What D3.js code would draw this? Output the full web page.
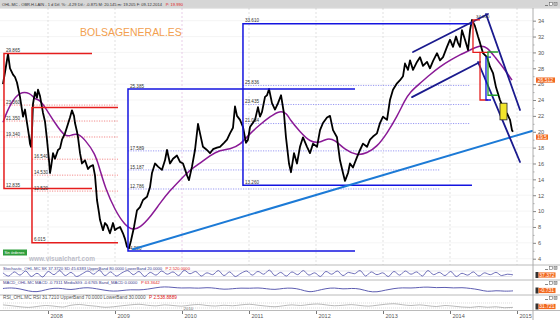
<!DOCTYPE html>
<html><head><meta charset="utf-8">
<script src="https://cdn.jsdelivr.net/npm/d3@7"></script>
<style>body{margin:0;background:#fff}svg{display:block;font-family:"Liberation Sans",Arial,sans-serif}</style>
</head><body><svg id="c" width="560" height="320"></svg>
<script>
// ---------- DATA ----------
const priceYears = [
2007.328,2007.358,2007.403,2007.433,2007.478,2007.507,2007.537,2007.582,2007.627,2007.657,
2007.687,2007.716,2007.731,2007.746,2007.761,2007.776,2007.806,2007.836,2007.851,2007.881,
2007.925,2007.955,2007.985,2008.000,2008.015,2008.030,2008.045,2008.075,2008.104,2008.149,
2008.179,2008.209,2008.254,2008.284,2008.328,2008.358,2008.388,2008.403,2008.433,2008.448,
2008.478,2008.507,2008.552,2008.597,2008.627,2008.672,2008.701,2008.716,2008.731,2008.761,
2008.776,2008.821,2008.851,2008.881,2008.925,2008.970,2009.000,2009.030,2009.075,2009.119,
2009.149,2009.179,2009.209,2009.239,2009.284,2009.328,2009.373,2009.418,2009.478,2009.522,
2009.552,2009.597,2009.642,2009.701,2009.746,2009.776,2009.821,2009.866,2009.925,2009.970,
2010.015,2010.075,2010.104,2010.149,2010.194,2010.239,2010.269,2010.313,2010.373,2010.418,
2010.463,2010.522,2010.567,2010.627,2010.672,2010.716,2010.761,2010.791,2010.821,2010.866,
2010.910,2010.955,2010.985,2011.015,2011.090,2011.134,2011.164,2011.194,2011.239,2011.269,
2011.299,2011.343,2011.388,2011.433,2011.478,2011.522,2011.552,2011.597,2011.627,2011.672,
2011.716,2011.761,2011.806,2011.866,2011.910,2011.955,2012.015,2012.060,2012.104,2012.164,
2012.209,2012.254,2012.313,2012.358,2012.403,2012.433,2012.478,2012.507,2012.552,2012.612,
2012.657,2012.701,2012.761,2012.806,2012.851,2012.910,2012.955,2013.000,2013.060,2013.104,
2013.149,2013.209,2013.254,2013.299,2013.328,2013.373,2013.403,2013.448,2013.507,2013.552,
2013.597,2013.657,2013.701,2013.746,2013.806,2013.851,2013.896,2013.955,2014.000,2014.045,
2014.090,2014.119,2014.149,2014.179,2014.224,2014.269,2014.299,2014.328,2014.373,2014.418,
2014.448,2014.493,2014.552,2014.597,2014.642,2014.687,2014.746,2014.791,2014.821,2014.851,
2014.896,2014.925,2014.940];
const priceValues = [
26.0,27.5,29.8,28.0,27.2,26.9,26.2,24.4,21.9,22.8,
21.1,19.5,18.5,18.1,20.0,23.5,25.0,24.3,25.3,24.5,
22.4,21.3,19.0,17.7,16.4,14.8,15.5,17.3,16.6,17.7,
17.9,19.0,19.8,20.6,21.8,22.7,22.0,21.1,20.0,19.3,
17.3,16.0,16.4,15.3,15.6,15.8,14.5,13.0,11.4,9.8,
8.9,7.6,8.5,8.2,7.2,8.5,7.6,7.8,8.0,7.2,
6.5,5.5,5.3,6.3,8.0,10.1,10.5,11.4,11.8,13.0,
14.8,16.0,15.6,15.2,16.4,17.7,16.0,16.6,17.0,16.2,
16.0,14.5,13.9,15.6,17.7,21.0,19.8,18.1,17.7,17.3,
17.8,18.0,18.1,18.6,19.0,19.8,20.5,23.2,22.0,21.5,
20.6,18.6,19.0,20.6,21.5,23.1,21.9,22.5,24.4,24.6,
25.4,23.6,22.8,23.6,24.6,22.3,19.3,16.0,14.9,17.3,
16.0,18.1,19.3,18.1,17.3,18.5,18.1,20.2,21.1,21.8,
22.0,20.2,19.3,16.4,14.8,13.8,14.8,16.0,15.5,16.8,
17.7,18.5,18.1,19.0,19.4,19.8,21.1,21.9,21.5,24.0,
25.3,26.1,26.5,27.0,28.6,27.8,29.0,27.8,28.8,29.4,
28.3,28.8,28.0,28.9,29.9,29.0,29.4,30.7,31.6,30.7,
32.0,31.2,30.7,32.8,31.6,30.3,32.8,34.1,33.3,32.0,
31.2,29.9,29.4,28.2,27.4,25.6,24.0,23.1,21.9,22.3,
21.5,20.2,19.99];
const maYears = [
2007.328,2007.433,2007.582,2007.731,2007.806,2007.881,2007.955,2008.104,2008.254,2008.358,
2008.448,2008.552,2008.701,2008.776,2008.851,2009.000,2009.149,2009.269,2009.373,2009.522,
2009.672,2009.821,2009.970,2010.119,2010.269,2010.418,2010.567,2010.716,2010.866,2011.015,
2011.164,2011.313,2011.463,2011.567,2011.612,2011.761,2011.910,2012.060,2012.164,2012.284,
2012.433,2012.612,2012.761,2012.910,2013.060,2013.209,2013.328,2013.403,2013.552,2013.701,
2013.851,2014.000,2014.149,2014.299,2014.448,2014.552,2014.672,2014.821,2014.925];
const maValues = [
21.2,23.5,25.1,24.9,24.1,24.0,23.1,21.1,19.3,19.6,
19.8,19.0,17.3,15.2,13.0,10.1,8.2,7.6,7.9,9.2,
11.0,12.6,13.9,15.2,16.0,17.0,17.7,17.8,18.3,19.8,
20.9,21.9,22.7,22.3,21.5,20.0,18.7,18.6,19.2,19.0,
17.7,17.0,17.3,18.1,19.8,21.9,24.0,25.0,26.1,27.2,
28.2,29.0,29.7,30.3,30.9,30.7,29.4,27.8,26.5];

const yearTicks = [2008,2009,2010,2011,2012,2013,2014,2015];
const yearLabels = ["2008","2009","2010","2011","2012","2013","2014","2015"];
const priceTicks = [4,6,8,10,12,14,16,18,20,22,24,26,28,30,32,34,36];

// Fibonacci boxes: [fromYear, toYear, top, bottom]
const redBox1 = [2007.343, 2008.657, 29.865, 12.835];
const redBox1Levels = [23.360, 21.350, 19.340];
const redBox2 = [2007.761, 2009.045, 23.045, 6.015];
const redBox2Levels = [16.540, 14.530, 12.520];
const blueBoxA = [2009.194, 2012.582, 25.385, 4.980];
const blueBoxALevels = [17.589, 15.187, 12.786];
const blueBoxB = [2010.910, 2014.328, 33.610, 13.260];
const blueBoxBLevels = [25.836, 23.435, 21.034];

// trend lines [[year, price],[year, price]]
const supportLine = [[2009.269, 5.2], [2015.224, 20.1]];
const channelUpper = [[2013.448, 30.05], [2014.567, 34.84]];
const channelLower = [[2013.433, 24.37], [2014.448, 28.79]];
const downOuter = [[2014.537, 34.84], [2015.045, 22.74]];
const downInner = [[2014.418, 28.79], [2015.045, 16.19]];

// small brackets near the 2014 top: [fromYear, toYear, top, bottom]
const peakRed1 = [2014.343, 2014.448, 34.1, 30.0];
const peakRed2 = [2014.448, 2014.567, 30.0, 24.0];
const peakBlue = [2014.537, 2014.612, 29.4, 24.0];
const peakGreen = [2014.567, 2014.716, 30.05, 24.6];
const peakYellow = [2014.746, 2014.851, 23.6, 21.5];

// indicators (read approximately)
const stochValues = [60,25,70,35,80,20,55,15,75,40,85,30,65,20,50,80,45,90,30,70,25,60,85,40,75,20,65,35,80,45,70,30,88,50,75,25,60,40,85,30,70,20,55,80,35,75,45,90,30,65,25,70,40,85,35,60,20,75,45,80,30,65,50,85,25,70,40,60,20,75,35,80,45,70,25,85,40,65,30,75,20,55,35,70,25,60,40,65,30,45,38];
const macdValues = [0.2,0.5,0.1,-0.8,-1.2,-0.3,0.4,0.2,-0.4,0.3,0.6,0.1,-0.5,-0.9,-0.6,-0.2,-0.4,-0.1,0.5,0.9,0.6,0.3,0.5,0.2,0.6,0.3,-0.2,0.1,0.4,0.2,0.5,0.1,-0.3,0.3,0.4,-0.1,-1.3,-0.6,0.2,0.5,-0.1,0.3,0.1,-1.0,-1.2,-0.4,0.2,0.5,0.3,0.6,0.8,0.4,0.7,0.3,0.6,0.2,-0.2,-1.1,-0.5,-0.9,-0.7];
const rsiValues = [55,48,40,35,42,50,45,38,52,58,50,44,36,40,48,55,60,52,47,55,50,45,53,58,50,46,52,48,55,60,52,45,40,48,55,50,58,62,55,48,52,57,50,45,52,60,64,56,50,55,48,42,50,45,38,35,42,36,40,32,35];
const indicatorSpan = [2007.328, 2014.940];

// ---------- DRAW ----------
const svg = d3.select("#c");
const W = 560, AX = 533, mainTop = 8, mainBottom = 265;
const x = d3.scaleLinear().domain([2008, 2015]).range([48, 517]);
const y = d3.scaleLinear().domain([4, 36]).range([258.7, 4.8]);

// text sized so its natural width equals the target width
function fitText(parent, tx, ty, str, width, color, extra) {
  const t = parent.append("text").attr("x",tx).attr("y",ty).attr("fill",color).attr("font-size",10).text(str);
  if (extra) extra(t);
  const L = t.node().getComputedTextLength();
  t.attr("font-size", (10 * width / L).toFixed(3));
  return t;
}
// two texts (normal + red) sharing one font size, fitted to a total width
function pairText(tx, ty, s1, c1, s2, c2, total, gap) {
  const a = svg.append("text").attr("x",tx).attr("y",ty).attr("fill",c1).attr("font-size",10).text(s1);
  const b = svg.append("text").attr("y",ty).attr("fill",c2).attr("font-size",10).text(s2);
  const L1 = a.node().getComputedTextLength(), L2 = b.node().getComputedTextLength();
  const f = 10 * (total - gap) / (L1 + L2);
  a.attr("font-size", f.toFixed(3));
  b.attr("font-size", f.toFixed(3)).attr("x", tx + L1 * f / 10 + gap);
}

// header
svg.append("rect").attr("x",0).attr("y",0).attr("width",W).attr("height",7.5).attr("fill","#d6d6d6");
pairText(2, 5.6, "OHL.MC - OBR.H.LAIN - 1 d  Dif. %: -4.29  Dif.: -0.875  M: 20.145  m: 19.205  F: 09-12-2014", "#333",
  "P: 19.990", "#e02020", 181, 3);

function winIcons(x0, y0) {
  const gi = svg.append("g");
  gi.append("line").attr("x1",x0).attr("x2",x0+3).attr("y1",y0+3).attr("y2",y0+3).attr("stroke","#555").attr("stroke-width",0.7);
  gi.append("rect").attr("x",x0+4.5).attr("y",y0).attr("width",3).attr("height",3).attr("fill","#fff").attr("stroke","#555").attr("stroke-width",0.5);
  gi.append("rect").attr("x",x0+9).attr("y",y0).attr("width",3).attr("height",3).attr("fill","#fff").attr("stroke","#555").attr("stroke-width",0.5);
  gi.append("path").attr("d",`M${x0+9.5},${y0+0.5}L${x0+11.5},${y0+2.5}M${x0+11.5},${y0+0.5}L${x0+9.5},${y0+2.5}`).attr("stroke","#555").attr("stroke-width",0.5);
}
winIcons(545, 2.5);

// clip for main panel
svg.append("clipPath").attr("id","mc").append("rect").attr("x",0).attr("y",mainTop).attr("width",AX).attr("height",mainBottom-mainTop);
const g = svg.append("g").attr("clip-path","url(#mc)");

// grid
g.selectAll(".hg").data(priceTicks).join("line")
  .attr("x1",0).attr("x2",AX).attr("y1",d=>y(d)).attr("y2",d=>y(d))
  .attr("stroke","#efefef").attr("stroke-width",0.6);
g.selectAll(".vg").data(yearTicks).join("line")
  .attr("x1",d=>x(d)).attr("x2",d=>x(d)).attr("y1",mainTop).attr("y2",mainBottom)
  .attr("stroke",d=>d===2010?"#e0b8e0":"#d4d4d4").attr("stroke-width",0.7).attr("stroke-dasharray","2,2");

// fib dotted levels
function levels(box, lv, toYear, color) {
  g.selectAll(null).data(lv).join("line")
    .attr("x1",x(box[0])).attr("x2",x(toYear)).attr("y1",d=>y(d)).attr("y2",d=>y(d))
    .attr("stroke",color).attr("stroke-width",0.8).attr("stroke-dasharray","1.2,1.3");
}
levels(redBox1, redBox1Levels, 2009.045, "#f07070");
levels(redBox2, redBox2Levels, 2009.045, "#f07070");
levels(blueBoxA, blueBoxALevels, 2013.85, "#8080f0");
levels(blueBoxB, blueBoxBLevels, 2014.30, "#8080f0");

// price & MA
const priceData = priceYears.map((t,i)=>[t, priceValues[i]]);
const maData = maYears.map((t,i)=>[t, maValues[i]]);
const line = d3.line().x(d=>x(d[0])).y(d=>y(d[1]));
g.append("path").datum(maData).attr("d", d3.line().curve(d3.curveBasis).x(d=>x(d[0])).y(d=>y(d[1])))
  .attr("fill","none").attr("stroke","#8a1a96").attr("stroke-width",1.5);
g.append("path").datum(priceData).attr("d", line)
  .attr("fill","none").attr("stroke","#000").attr("stroke-width",1.8).attr("stroke-linejoin","round");

// fib boxes solid
function box(b, color) {
  const x0 = x(b[0]), x1 = x(b[1]);
  g.append("path").attr("d",`M${x1},${y(b[2])}H${x0}V${y(b[3])}H${x1}`)
    .attr("fill","none").attr("stroke",color).attr("stroke-width",1.5);
}
box(redBox1, "#e51d1d");
box(redBox2, "#e51d1d");
box(blueBoxA, "#1414e0");
box(blueBoxB, "#1414e0");

function labels(vals, fromYear) {
  g.selectAll(null).data(vals).join("text")
    .attr("x", x(fromYear) + 2).attr("y", d=>y(d) - 1.3)
    .attr("font-size",4.6).attr("fill","#333").text(d=>d.toFixed(3));
}
labels([redBox1[2], ...redBox1Levels, redBox1[3]], redBox1[0]);
labels([...redBox2Levels, redBox2[3]], redBox2[0]);
labels([blueBoxA[2], ...blueBoxALevels, blueBoxA[3]], blueBoxA[0]);
labels([blueBoxB[2], ...blueBoxBLevels, blueBoxB[3]], blueBoxB[0]);

// trend lines
function seg(p, color, w) {
  g.append("path").datum(p).attr("d", line).attr("fill","none").attr("stroke",color).attr("stroke-width",w).attr("stroke-linecap","round");
}
seg(supportLine, "#1c7ad6", 2);
seg(channelUpper, "#1a1a8e", 1.8);
seg(channelLower, "#1a1a8e", 1.8);
seg(downOuter, "#1a1a8e", 1.8);
seg(downInner, "#1a1a8e", 1.8);

// small brackets
function bracket(b, color) {
  g.append("path").attr("d",`M${x(b[1])},${y(b[2])}H${x(b[0])}V${y(b[3])}H${x(b[1])}`)
    .attr("fill","none").attr("stroke",color).attr("stroke-width",1.3);
}
bracket(peakRed1, "#e51d1d");
bracket(peakRed2, "#e51d1d");
bracket(peakBlue, "#1414e0");
bracket(peakGreen, "#1e9a2a");
g.append("rect").attr("x",x(peakYellow[0])).attr("y",y(peakYellow[2]))
  .attr("width",x(peakYellow[1])-x(peakYellow[0])).attr("height",y(peakYellow[3])-y(peakYellow[2]))
  .attr("fill","#f2e52a").attr("stroke","#222").attr("stroke-width",0.8);
g.append("text").attr("x",x(peakRed1[0])+3).attr("y",y(peakRed1[2])-1.5).attr("font-size",4.4).attr("fill","#333").text(peakRed1[2].toFixed(3));

// watermark texts
fitText(svg, 80, 35.5, "BOLSAGENERAL.ES", 102, "#f2a050");
svg.append("rect").attr("x",3).attr("y",249.5).attr("width",24).attr("height",6).attr("fill","#2f9e3c");
fitText(svg, 4.5, 254.2, "Sin órdenes", 20, "#fff");
fitText(svg, 29, 261, "www.visualchart.com", 66, "#bcbcc8", t => t.attr("font-weight","bold"));

// right axis
svg.append("line").attr("x1",AX).attr("x2",AX).attr("y1",mainTop).attr("y2",320).attr("stroke","#9a9a9a").attr("stroke-width",0.8);
const ax = svg.append("g").attr("transform",`translate(${AX},0)`)
  .call(d3.axisRight(y).tickValues(priceTicks.slice(0,-1)).tickSize(3).tickPadding(2).tickFormat(d3.format("d")));
ax.select(".domain").remove();
ax.selectAll("line").attr("stroke","#888");
ax.selectAll("text").attr("font-size",5.6).attr("fill","#555").attr("font-family","Liberation Sans, Arial");
const axm = svg.append("g").attr("transform",`translate(${AX},0)`)
  .call(d3.axisRight(y).tickValues(d3.range(5,35,2)).tickSize(1.5).tickFormat(""));
axm.select(".domain").remove();
axm.selectAll("line").attr("stroke","#aaa");

function valueBox(cx, cy, txt, w) {
  svg.append("rect").attr("x",cx).attr("y",cy-2.6).attr("width",w).attr("height",5.2).attr("fill","#f26a21");
  svg.append("text").attr("x",cx+w/2).attr("y",cy+1.8).attr("text-anchor","middle").attr("font-size",5).attr("fill","#fff").text(txt);
}
valueBox(536, y(26.512), "26.512", 19);
valueBox(536, y(19.5) + 1.4, "19.5", 12);

// panel separators
[265, 280, 295, 310.5].forEach(v => svg.append("line").attr("x1",0).attr("x2",W).attr("y1",v).attr("y2",v).attr("stroke","#a8a8a8").attr("stroke-width",0.8));
svg.append("line").attr("x1",0).attr("x2",W).attr("y1",mainTop).attr("y2",mainTop).attr("stroke","#b0b0b0").attr("stroke-width",0.6);

// indicators
const xi = d => d3.scaleLinear().domain([0, d-1]).range([x(indicatorSpan[0]), x(indicatorSpan[1])]);
// stochastic
const sy = d3.scaleLinear().domain([20,80]).range([276.5,271]);
[20,80].forEach(v=>svg.append("line").attr("x1",3).attr("x2",512).attr("y1",sy(v)).attr("y2",sy(v)).attr("stroke","#c8c8d8").attr("stroke-width",0.5));
const sx = xi(stochValues.length);
svg.append("path").datum(stochValues).attr("d", d3.line().curve(d3.curveMonotoneX).x((d,i)=>sx(i)).y(d=>sy(d)))
  .attr("fill","none").attr("stroke","#4b4ba8").attr("stroke-width",0.8);
pairText(3, 269.8, "Stochastic_OHL.MC  SK  37.3720  SD  45.6383  UpperBand  80.0000  LowerBand  20.0000", "#3c3c8c",
  "P  2.520.0000", "#e02020", 187, 3);
// MACD
const my = d3.scaleLinear().domain([-1.5,1.5]).range([293,285]);
const mx = xi(macdValues.length);
svg.append("path").datum(macdValues).attr("d", d3.line().curve(d3.curveBasis).x((d,i)=>mx(i)).y(d=>my(d)))
  .attr("fill","none").attr("stroke","#4b4ba8").attr("stroke-width",0.9);
pairText(3, 284.3, "MACD_OHL.MC  MACD  -0.7311  MediaSIG  -0.6765  Band_MACD  0.0000", "#3c3c8c",
  "P  63.3642", "#e02020", 157, 3);
// RSI
const ry = d3.scaleLinear().domain([30,70]).range([308,303]);
[30,70].forEach(v=>svg.append("line").attr("x1",3).attr("x2",512).attr("y1",ry(v)).attr("y2",ry(v)).attr("stroke","#b8b8b8").attr("stroke-width",0.5).attr("stroke-dasharray","1,1"));
const rx = xi(rsiValues.length);
svg.append("path").datum(rsiValues).attr("d", d3.line().curve(d3.curveMonotoneX).x((d,i)=>rx(i)).y(d=>ry(d)))
  .attr("fill","none").attr("stroke","#9a9a9a").attr("stroke-width",0.7);
pairText(3, 299, "RSI_OHL.MC  RSI  31.7210  UpperBand  70.0000  LowerBand  30.0000", "#555",
  "P  2.538.8889", "#e02020", 174, 3);
svg.append("text").attr("x",x(2010)+1.5).attr("y",309.5).attr("font-size",4.4).attr("fill","#777").text("2010");

// indicator side boxes
[[268, "37.372", 275], [283, "-0.731", 290.5], [298, "31.721", 306.5]].forEach(([iy, t, by]) => {
  winIcons(545, iy - 1.5);
  svg.append("rect").attr("x",535.5).attr("y",by-3).attr("width",3).attr("height",6).attr("fill","#333");
  valueBox(538.5, by, t, 17);
});

// x axis
const xa = svg.append("g").attr("transform","translate(0,311)")
  .call(d3.axisBottom(x).tickValues(yearTicks).tickSize(3).tickFormat((d,i)=>yearLabels[i]));
xa.select(".domain").remove();
xa.selectAll("line").attr("stroke","#777");
xa.selectAll("text").attr("font-size",5.5).attr("fill","#555").attr("text-anchor","start").attr("x",2).attr("y",3).attr("dy","0.72em").attr("font-family","Liberation Sans, Arial");
</script></body></html>
